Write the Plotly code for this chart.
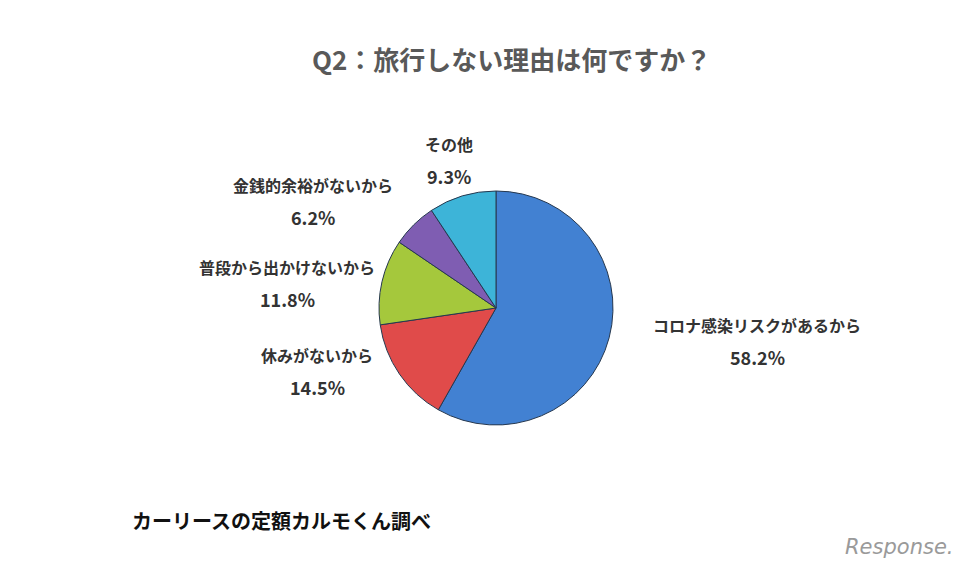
import plotly.graph_objects as go

categories = ["コロナ感染リスクがあるから", "休みがないから", "普段から出かけないから", "金銭的余裕がないから", "その他"]
values = [58.2, 14.5, 11.8, 6.2, 9.3]
colors = ["#4281D2", "#E04B4A", "#A5C83C", "#7F5DB2", "#3DB4D8"]
# label centre positions (pixels from top-left of window), for the outside labels
label_px = [(757, 325), (317, 355), (287, 267), (313, 185), (449, 144)]

OFF = 8  # page body margin
W, H = 968 - OFF, 567 - OFF
font = "Noto Sans CJK JP"


def px(x):
    return (x - OFF) / W


def py(y):
    return 1 - (y - OFF) / H


fig = go.Figure()
fig.add_trace(go.Pie(
    labels=categories, values=values, sort=False, direction="clockwise", rotation=0,
    marker=dict(colors=colors, line=dict(color="#26384f", width=1)),
    textinfo="none", hoverinfo="label+percent", showlegend=False,
    domain=dict(x=[px(379), px(613)], y=[py(425), py(191)]),
))

ann = []
for cat, v, (lx, ly) in zip(categories, values, label_px):
    ann.append(dict(x=px(lx), y=py(ly), xref="paper", yref="paper", xanchor="center", yanchor="middle",
                    text=f"<b>{cat}</b>", showarrow=False,
                    font=dict(family=font, size=16, color="#333333")))
    ann.append(dict(x=px(lx), y=py(ly + 32), xref="paper", yref="paper", xanchor="center", yanchor="middle",
                    text=f"<b>{v:.1f}%</b>", showarrow=False,
                    font=dict(family=font, size=18, color="#333333")))

ann.append(dict(x=px(511), y=py(58), xref="paper", yref="paper", xanchor="center", yanchor="middle",
                text="<b>Q2：旅行しない理由は何ですか？</b>", showarrow=False,
                font=dict(family=font, size=26, color="#595959")))
ann.append(dict(x=px(130), y=py(520), xref="paper", yref="paper", xanchor="left", yanchor="middle",
                text="<b>カーリースの定額カルモくん調べ</b>", showarrow=False,
                font=dict(family=font, size=20, color="#111111")))
ann.append(dict(x=px(955), y=py(547), xref="paper", yref="paper", xanchor="right", yanchor="middle",
                text="<i>Response.</i>", showarrow=False,
                font=dict(family="DejaVu Sans", size=21, color="#9a9a9a")))

fig.update_layout(
    width=W, height=H, margin=dict(l=0, r=0, t=0, b=0),
    paper_bgcolor="white", plot_bgcolor="white", annotations=ann,
)
fig.write_html("out.html")
